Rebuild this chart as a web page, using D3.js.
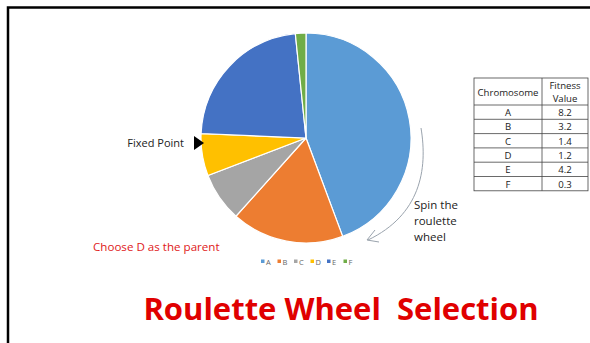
<!DOCTYPE html>
<html lang="en">
<head>
  <meta charset="UTF-8">
  <title>Roulette Wheel Selection</title>
  <script src="https://d3js.org/d3.v7.min.js"></script>
  <style>
    body { margin: 0; background: #fff; }
    svg { display: block; font-family: "Open Sans", "Noto Sans", sans-serif; }
  </style>
</head>
<body>
<svg width="590" height="343"></svg>
<script>
const chromosomes = ["A", "B", "C", "D", "E", "F"];
const fitness = [8.2, 3.2, 1.4, 1.2, 4.2, 0.3];
const tableHeader = ["Chromosome", "Fitness Value"];
const sliceColors = ["#5b9bd5", "#ed7d31", "#a5a5a5", "#ffc000", "#4472c4", "#70ad47"];

const svg = d3.select("svg");

// frame
svg.append("path")
  .attr("d", "M8,343 V7.5 H590")
  .attr("fill", "none")
  .attr("stroke", "#000")
  .attr("stroke-width", 2.5);

// pie
const cx = 306, cy = 138, radius = 105;
const data = chromosomes.map((c, i) => ({ name: c, value: fitness[i] }));
const pie = d3.pie().sort(null).value(d => d.value);
const arc = d3.arc().innerRadius(0).outerRadius(radius);
const color = d3.scaleOrdinal().domain(chromosomes).range(sliceColors);

const g = svg.append("g").attr("transform", `translate(${cx},${cy})`);
g.selectAll("path")
  .data(pie(data))
  .enter().append("path")
  .attr("d", arc)
  .attr("fill", d => color(d.data.name))
  .attr("stroke", "#fff")
  .attr("stroke-width", 1.2);

// legend
const legend = svg.append("g").attr("transform", "translate(261,262)");
const itemW = 16.5;
const items = legend.selectAll("g")
  .data(chromosomes)
  .enter().append("g")
  .attr("transform", (d, i) => `translate(${i * itemW},0)`);
items.append("rect")
  .attr("x", 0).attr("y", -2.5)
  .attr("width", 3.5).attr("height", 3.5)
  .attr("fill", d => color(d));
items.append("text")
  .attr("x", 5).attr("y", 2.5)
  .attr("font-size", 7.5)
  .attr("fill", "#666")
  .text(d => d);

// fixed point marker
svg.append("path")
  .attr("d", "M194,136 L204,143 L194,150 Z")
  .attr("fill", "#000");
svg.append("text")
  .attr("x", 184).attr("y", 147)
  .attr("text-anchor", "end")
  .attr("font-size", 11)
  .attr("fill", "#222")
  .text("Fixed Point");

svg.append("text")
  .attr("x", 93).attr("y", 251)
  .attr("font-size", 11.6)
  .attr("fill", "#e02020")
  .text("Choose D as the parent");

// spin arrow
svg.append("path")
  .attr("d", "M421,128 C428,170 420,215 368,240")
  .attr("fill", "none")
  .attr("stroke", "#9aa3ad")
  .attr("stroke-width", 1);
svg.append("path")
  .attr("d", "M375,230 L367,240 L379,242")
  .attr("fill", "none")
  .attr("stroke", "#9aa3ad")
  .attr("stroke-width", 1);

const spin = svg.append("text")
  .attr("font-size", 11.5)
  .attr("fill", "#222");
["Spin the", "roulette", "wheel"].forEach((t, i) => {
  spin.append("tspan").attr("x", 414).attr("y", 209 + i * 16).text(t);
});

// table
const tx = 474, tw = 114, col = 542, headH = 27, rowH = 14.3, ty = 78;
const table = svg.append("g");
const rows = chromosomes.length;
table.append("rect")
  .attr("x", tx).attr("y", ty)
  .attr("width", tw).attr("height", headH + rows * rowH)
  .attr("fill", "#fff").attr("stroke", "#444").attr("stroke-width", 0.8);
table.append("line")
  .attr("x1", col).attr("x2", col)
  .attr("y1", ty).attr("y2", ty + headH + rows * rowH)
  .attr("stroke", "#444").attr("stroke-width", 0.8);
d3.range(rows).forEach(i => {
  table.append("line")
    .attr("x1", tx).attr("x2", tx + tw)
    .attr("y1", ty + headH + i * rowH).attr("y2", ty + headH + i * rowH)
    .attr("stroke", "#444").attr("stroke-width", 0.8);
});
table.append("text")
  .attr("x", (tx + col) / 2).attr("y", ty + 17.5)
  .attr("text-anchor", "middle").attr("font-size", 9.6).attr("fill", "#222")
  .text(tableHeader[0]);
const hdr = table.append("text")
  .attr("text-anchor", "middle").attr("font-size", 9.6).attr("fill", "#222");
hdr.append("tspan").attr("x", (col + tx + tw) / 2).attr("y", ty + 11).text("Fitness");
hdr.append("tspan").attr("x", (col + tx + tw) / 2).attr("y", ty + 24).text("Value");
table.selectAll(".cell-name")
  .data(data)
  .enter().append("text")
  .attr("x", (tx + col) / 2)
  .attr("y", (d, i) => ty + headH + i * rowH + 11)
  .attr("text-anchor", "middle").attr("font-size", 9.6).attr("fill", "#222")
  .text(d => d.name);
table.selectAll(".cell-val")
  .data(data)
  .enter().append("text")
  .attr("x", (col + tx + tw) / 2)
  .attr("y", (d, i) => ty + headH + i * rowH + 11)
  .attr("text-anchor", "middle").attr("font-size", 9.6).attr("fill", "#222")
  .text(d => d.value.toFixed(1));

// title (double space kept, as in the original)
svg.append("text")
  .attr("x", 341).attr("y", 320)
  .attr("text-anchor", "middle")
  .attr("font-size", 31)
  .attr("font-weight", "bold")
  .attr("fill", "#e00000")
  .style("white-space", "pre")
  .text("Roulette Wheel  Selection");
</script>
</body>
</html>
